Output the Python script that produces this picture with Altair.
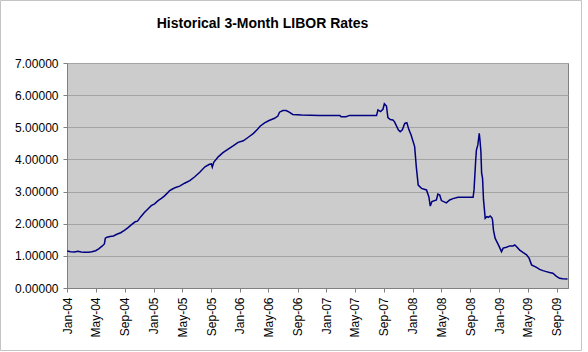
import altair as alt
import pandas as pd

# ---- data ----
dates = [
    "2004-01-02", "2004-01-16", "2004-02-02", "2004-02-16", "2004-03-01", "2004-03-15",
    "2004-04-01", "2004-04-15", "2004-05-01", "2004-05-14", "2004-05-28", "2004-06-07",
    "2004-06-11", "2004-06-18", "2004-07-01", "2004-07-15", "2004-08-01", "2004-08-15",
    "2004-09-01", "2004-09-15", "2004-10-01", "2004-10-15", "2004-10-25", "2004-11-08",
    "2004-11-22", "2004-12-08", "2004-12-22",
    "2005-01-05", "2005-01-20", "2005-02-03", "2005-02-15", "2005-03-01", "2005-03-10",
    "2005-03-22", "2005-04-01", "2005-04-21", "2005-05-12", "2005-06-03", "2005-06-24",
    "2005-07-15", "2005-08-06", "2005-08-25", "2005-09-02", "2005-09-06", "2005-09-12",
    "2005-10-01", "2005-10-21", "2005-11-12", "2005-12-03", "2005-12-24",
    "2006-01-15", "2006-02-05", "2006-02-27", "2006-03-16", "2006-03-28", "2006-04-15",
    "2006-05-04", "2006-05-27", "2006-06-10", "2006-06-17", "2006-07-01", "2006-07-15",
    "2006-07-28", "2006-08-12", "2006-09-18", "2006-12-03",
    "2007-02-27", "2007-03-04", "2007-03-25", "2007-04-09", "2007-08-01", "2007-08-07",
    "2007-08-18", "2007-08-28", "2007-09-03", "2007-09-12", "2007-09-18", "2007-09-28",
    "2007-10-09", "2007-10-16", "2007-11-01", "2007-11-09", "2007-11-18", "2007-11-28",
    "2007-12-07", "2007-12-16", "2007-12-25",
    "2008-01-09", "2008-01-16", "2008-01-24", "2008-02-07", "2008-02-28", "2008-03-09",
    "2008-03-15", "2008-03-22", "2008-04-10", "2008-04-16", "2008-04-24", "2008-05-01",
    "2008-05-22", "2008-06-05", "2008-06-19", "2008-07-10", "2008-09-12", "2008-09-16",
    "2008-09-23", "2008-09-26", "2008-10-02", "2008-10-08", "2008-10-11", "2008-10-15",
    "2008-10-18", "2008-10-22", "2008-10-26", "2008-10-30", "2008-11-02", "2008-11-09",
    "2008-11-16", "2008-11-23", "2008-11-30", "2008-12-03", "2008-12-07", "2008-12-14",
    "2008-12-21", "2008-12-28",
    "2009-01-10", "2009-01-17", "2009-01-31", "2009-02-14", "2009-02-28", "2009-03-07",
    "2009-03-14", "2009-03-28", "2009-04-12", "2009-04-26", "2009-05-07", "2009-05-17",
    "2009-06-07", "2009-06-20", "2009-07-04", "2009-07-18", "2009-08-01", "2009-08-15",
    "2009-08-29", "2009-09-12", "2009-09-26", "2009-10-16",
]
rates = [
    1.15, 1.13, 1.12, 1.14, 1.12, 1.11,
    1.11, 1.13, 1.16, 1.22, 1.30, 1.37,
    1.55, 1.58, 1.60, 1.62, 1.68, 1.72,
    1.80, 1.88, 1.98, 2.06, 2.08, 2.22,
    2.34, 2.46, 2.56,
    2.62, 2.72, 2.79, 2.86, 2.96, 3.03,
    3.08, 3.12, 3.17, 3.26, 3.34, 3.46,
    3.60, 3.77, 3.85, 3.86, 3.76, 3.91,
    4.08, 4.21, 4.32, 4.42, 4.53,
    4.58, 4.69, 4.81, 4.94, 5.04, 5.14,
    5.21, 5.28, 5.35, 5.47, 5.52, 5.52,
    5.47, 5.40, 5.38, 5.37,
    5.37, 5.33, 5.33, 5.37, 5.37, 5.54,
    5.49, 5.56, 5.73, 5.66, 5.30, 5.24,
    5.23, 5.17, 4.92, 4.86, 4.92, 5.12,
    5.14, 4.92, 4.76,
    4.40, 3.77, 3.20, 3.10, 3.05, 2.84,
    2.55, 2.69, 2.74, 2.92, 2.89, 2.72,
    2.65, 2.74, 2.78, 2.82, 2.82, 3.06,
    3.98, 4.29, 4.45, 4.81, 4.60, 4.24,
    3.57, 3.41, 2.74, 2.43, 2.17, 2.22,
    2.20, 2.24, 2.19, 2.12, 1.80, 1.55,
    1.44, 1.34,
    1.13, 1.24, 1.27, 1.31, 1.31, 1.34,
    1.29, 1.18, 1.10, 1.03, 0.92, 0.72,
    0.64, 0.58, 0.54, 0.51, 0.48, 0.46,
    0.37, 0.30, 0.29, 0.28,
]
tick_months = [(y, m) for y in range(2004, 2010) for m in (1, 5, 9)]
y_ticks = [0, 1, 2, 3, 4, 5, 6, 7]
title_text = "Historical 3-Month LIBOR Rates"

df = pd.DataFrame({"date": [d + "T00:00:00" for d in dates], "rate": rates})

FONT = "Liberation Sans"
AXIS_GRAY = "#808080"

x_enc = alt.X(
    "date:T",
    scale=alt.Scale(domain=[alt.DateTime(year=2004, month=1, date=1),
                            alt.DateTime(year=2009, month=10, date=18)]),
    axis=alt.Axis(
        title=None,
        values=[alt.DateTime(year=y, month=m, date=1) for y, m in tick_months],
        format="%b-%y",
        labelAngle=-90,
        labelFont=FONT, labelFontSize=12, labelColor="black",
        labelPadding=5, tickSize=4, tickColor=AXIS_GRAY,
        domainColor=AXIS_GRAY, grid=False, labelOverlap=False,
    ),
)
y_enc = alt.Y(
    "rate:Q",
    scale=alt.Scale(domain=[0, 7], nice=False),
    axis=alt.Axis(
        title=None, values=y_ticks, format=".5f",
        labelFont=FONT, labelFontSize=12, labelColor="black",
        labelPadding=5, tickSize=4, tickColor=AXIS_GRAY,
        domainColor=AXIS_GRAY, grid=True, gridColor="#a4a4a4", gridWidth=1,
    ),
)

line = alt.Chart(df).mark_line(color="#000080", strokeWidth=1.5, clip=True).encode(
    x=x_enc, y=y_enc
)

frame = alt.Chart(alt.Data(values=[{}])).mark_rect(
    fill=None, stroke="#c4c4c4", strokeWidth=1
).encode(
    x=alt.value(-66.5), x2=alt.value(514.5), y=alt.value(-62.5), y2=alt.value(287.5)
)

chart = alt.layer(line, frame).properties(
    width=501,
    height=225,
    title=alt.TitleParams(
        title_text, font=FONT, fontSize=14, fontWeight="bold", color="black",
        anchor="middle", frame="group", dx=-55, dy=31, offset=0,
    ),
    autosize=alt.AutoSizeParams(type="none"),
    padding={"left": 67, "top": 63, "right": 20, "bottom": 64},
).configure(
    background="white"
).configure_view(
    fill="#cccccc", stroke=AXIS_GRAY, strokeWidth=1
)

chart.save("out.html", embed_options={"renderer": "svg", "actions": False})
